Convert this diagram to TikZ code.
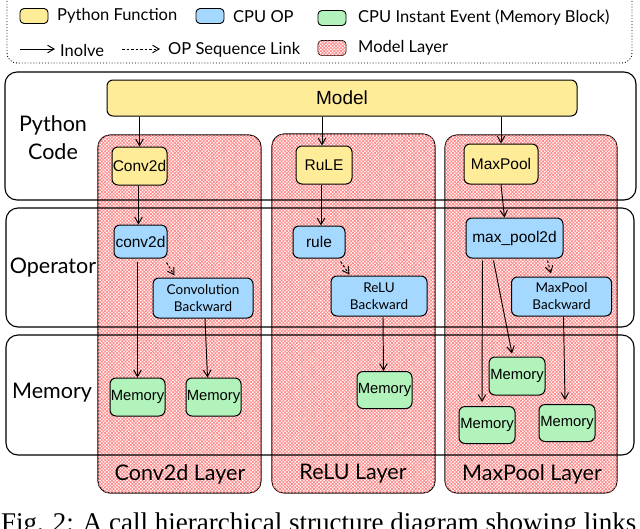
\documentclass[tikz,border=0pt]{standalone}
\usepackage{fontspec}
\setmainfont{Liberation Sans}
\newfontfamily\latofont{Lato}
\newfontfamily\capfont{Liberation Serif}
\usetikzlibrary{arrows.meta,patterns.meta}
\definecolor{pyyellow}{HTML}{FFEC99}
\definecolor{opblue}{HTML}{A5D8FF}
\definecolor{memgreen}{HTML}{B2F2BB}
\definecolor{hatchred}{HTML}{FF8787}
\tikzset{
  box/.style={draw=black, line width=1pt, rounded corners=6pt, inner sep=0pt, font=\fontsize{15.5}{18}\selectfont},
  pyfn/.style={box, fill=pyyellow},
  cpuop/.style={box, fill=opblue},
  cpuop2/.style={box, fill=opblue, align=center, font=\latofont\fontsize{13.5}{17}\selectfont},
  mem/.style={box, fill=memgreen, font=\fontsize{14.8}{17}\selectfont},
  rowbox/.style={draw=black, line width=1.1pt, rounded corners=12pt},
  hatch/.style={fill=white,
     postaction={pattern={Lines[angle=45,distance=2.4pt,line width=0.75pt]}, pattern color=hatchred},
     postaction={pattern={Lines[angle=-45,distance=2.4pt,line width=0.75pt]}, pattern color=hatchred}},
  layer/.style={hatch, draw=black, line width=1.1pt, rounded corners=12pt},
  inv/.style={-{Straight Barb[length=6.5pt,width=7.5pt]}, line width=0.95pt},
  seq/.style={inv, dash pattern=on 2.5pt off 2pt},
  biglab/.style={font=\latofont\fontsize{21.5}{25}\selectfont, inner sep=0pt},
  leglab/.style={font=\latofont\fontsize{16.5}{19}\selectfont, anchor=west, inner sep=0pt},
  swatch/.style={draw=black, line width=0.9pt, rounded corners=4pt, minimum width=28pt, minimum height=15pt, inner sep=0pt},
}
\begin{document}
\begin{tikzpicture}[x=1pt,y=-1pt]
\useasboundingbox (0,0) rectangle (640,528);
\clip (0,0) rectangle (640,528);
\fill[white] (0,0) rectangle (640,528);

% legend
\draw[dotted, line width=0.9pt, rounded corners=10pt] (7,-12) rectangle (632,63);
\node[swatch, fill=pyyellow] (sw1) at (34,16) {};
\node[leglab] (l1) at (57,16) {Python Function};
\node[swatch, fill=opblue] (sw2) at (210,16) {};
\node[leglab] (l2) at (233,17) {CPU OP};
\node[swatch, fill=memgreen] (sw3) at (332,18) {};
\node[leglab] (l3) at (358,18) {CPU Instant Event (Memory Block)};
\coordinate (a1s) at (20,49);
\coordinate (a1e) at (55,49);
\draw[inv] (a1s) -- (a1e);
\node[leglab] (l4) at (60,50) {Inolve};
\coordinate (a2s) at (122,49);
\coordinate (a2e) at (160,49);
\draw[seq] (a2s) -- (a2e);
\node[leglab] (l5) at (168,50) {OP Sequence Link};
\node[swatch, hatch] (sw4) at (332,48) {};
\node[leglab] (l6) at (358,48) {Model Layer};

% layer columns
\draw[layer] (98,135) rectangle (261,493);
\draw[layer] (272,134) rectangle (435,493);
\draw[layer] (445,135) rectangle (617,493);

% row boxes
\draw[rowbox] (5,72) rectangle (636,200);
\draw[rowbox] (6,208) rectangle (634,327);
\draw[rowbox] (6,335) rectangle (634,455);

% row labels
\node[biglab] (lpy) at (53,125) {Python};
\node[biglab] (lcode) at (53,152) {Code};
\node[biglab] (lop) at (53,268) {Operator};
\node[biglab] (lmem) at (52,393) {Memory};

% layer labels
\node[biglab] (lconv) at (180,474) {Conv2d Layer};
\node[biglab] (lrelu) at (353,474) {ReLU Layer};
\node[biglab] (lmp) at (532,474) {MaxPool Layer};

% python functions
\node[pyfn, minimum width=470pt, minimum height=36pt, font=\fontsize{19}{22}\selectfont] (model) at (342,98) {Model};
\node[pyfn, minimum width=55pt, minimum height=38pt] (convF) at (139.5,166) {Conv2d};
\node[pyfn, minimum width=56pt, minimum height=38pt] (reluF) at (324,165) {RuLE};
\node[pyfn, minimum width=74pt, minimum height=40pt] (mpF) at (501,164) {MaxPool};

% operators
\node[cpuop, minimum width=53pt, minimum height=33pt] (convO) at (140.5,241.5) {conv2d};
\node[cpuop2, minimum width=100pt, minimum height=40pt] (convB) at (203,298) {Convolution\\Backward};
\node[cpuop, minimum width=52pt, minimum height=32pt] (reluO) at (319,242) {rule};
\node[cpuop2, minimum width=96pt, minimum height=40pt] (reluB) at (379,296) {ReLU\\Backward};
\node[cpuop, minimum width=97pt, minimum height=40pt] (mpO) at (514.5,238) {max\_pool2d};
\node[cpuop2, minimum width=100pt, minimum height=39pt] (mpB) at (561.5,296.5) {MaxPool\\Backward};

% memory
\node[mem, minimum width=55pt, minimum height=38pt] (m1) at (137.5,397) {Memory};
\node[mem, minimum width=55pt, minimum height=38pt] (m2) at (213.5,397) {Memory};
\node[mem, minimum width=55pt, minimum height=37pt] (m3) at (384.5,390) {Memory};
\node[mem, minimum width=56pt, minimum height=38pt] (m4) at (517,376) {Memory};
\node[mem, minimum width=56pt, minimum height=37pt] (m5) at (487,425) {Memory};
\node[mem, minimum width=56pt, minimum height=37pt] (m6) at (567,423) {Memory};

% involve arrows
\draw[inv] (model.south -| convF.north) -- (convF.north);
\draw[inv] ([xshift=-2pt]model.south -| reluF.north) -- ([xshift=-2pt]reluF.north);
\draw[inv] (model.south -| mpF.north) -- (mpF.north);
\draw[inv] ([xshift=-1pt]convF.south) -- ([xshift=-1pt]convF.south |- convO.north);
\draw[inv] ([xshift=-3pt]reluF.south) -- ([xshift=-3pt]reluF.south |- reluO.north);
\draw[inv] (mpF.south) -- ([xshift=-10pt]mpO.north);
\draw[inv] ([yshift=-3pt]convO.south -| m1.north) -- (m1.north);
\draw[inv] ([xshift=2pt]convB.south) -- ([xshift=-6pt]m2.north);
\draw[inv] ([xshift=4pt]reluB.south) -- ([xshift=-1pt]m3.north);
\draw[inv] ([xshift=-32pt,yshift=-2pt]mpO.south) -- ([xshift=-5pt,yshift=4pt]m5.north);
\draw[inv] ([xshift=-21pt,yshift=-2pt]mpO.south) -- ([xshift=-5pt,yshift=3pt]m4.north);
\draw[inv] ([xshift=2pt]mpB.south) -- ([xshift=-2pt,yshift=4pt]m6.north);

% sequence links
\draw[seq] ([shift={(-1pt,-4pt)}]convO.south east) -- ([shift={(22pt,2pt)}]convB.north west);
\draw[seq] ([shift={(-5pt,-3pt)}]reluO.south east) -- ([shift={(19pt,1pt)}]reluB.north west);
\draw[seq] ([shift={(-16pt,-2pt)}]mpO.south east) -- ([shift={(40pt,3pt)}]mpB.north west);

% caption (cut off by the picture edge, as in the reference)
\node[font=\capfont\fontsize{27}{32}\selectfont, anchor=base west, inner sep=0pt] (cap) at (1,531) {Fig. 2: A call hierarchical structure diagram showing links};
\end{tikzpicture}
\end{document}
